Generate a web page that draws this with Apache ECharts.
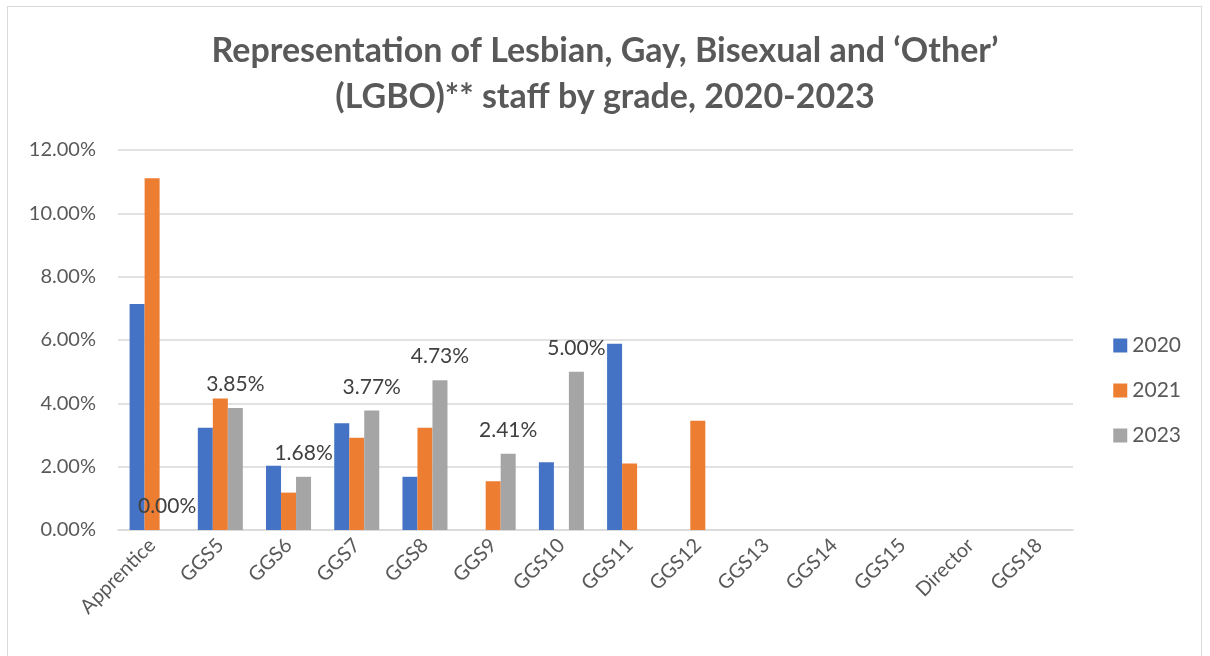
<!DOCTYPE html>
<html>
<head>
<meta charset="utf-8">
<script src="https://cdn.jsdelivr.net/npm/echarts@6/dist/echarts.min.js"></script>
<style>
    html, body { margin: 0; padding: 0; background: #fff; }
    .frame {
        position: absolute;
        left: 7px; top: 6px;
        width: 1195px; height: 660px;
        border: 1px solid #d9d9d9;
        box-sizing: border-box;
    }
    #chart { position: absolute; left: 0; top: 0; width: 1210px; height: 656px; }
</style>
</head>
<body>
<div class="frame"></div>
<div id="chart"></div>
<script>
// 职级分类
const grades = ['Apprentice', 'GGS5', 'GGS6', 'GGS7', 'GGS8', 'GGS9', 'GGS10', 'GGS11', 'GGS12', 'GGS13', 'GGS14', 'GGS15', 'Director', 'GGS18']
// 各年份占比(%)
const values2020 = [7.14, 3.23, 2.03, 3.37, 1.68, null, 2.14, 5.88, null, null, null, null, null, null]
const values2021 = [11.11, 4.15, 1.18, 2.91, 3.23, 1.54, null, 2.10, 3.45, null, null, null, null, null]
const values2023 = [0, 3.85, 1.68, 3.77, 4.73, 2.41, 5.00, null, null, null, null, null, null, null]
const seriesNames = ['2020', '2021', '2023']
const yTicks = [0, 2, 4, 6, 8, 10, 12]

const chartInstance = echarts.init(document.getElementById('chart'))
const font = 'Lato, "Open Sans", sans-serif'
const grey = '#595959'

const option = {
    animation: false,
    textStyle: { fontFamily: font },
    color: ['#4472c4', '#ed7d31', '#a5a5a5'],
    title: {
        text: 'Representation of Lesbian, Gay, Bisexual and \u2018Other\u2019\n(LGBO)** staff by grade, 2020-2023',
        left: 'center',
        top: 23,
        textStyle: {
            fontFamily: font,
            fontSize: 34,
            fontWeight: 'bold',
            color: grey,
            lineHeight: 46
        }
    },
    grid: {
        left: 118,
        right: 137,
        top: 150,
        bottom: 126
    },
    legend: {
        orient: 'vertical',
        right: 24,
        top: 330,
        itemWidth: 14,
        itemHeight: 14,
        itemGap: 24,
        icon: 'rect',
        textStyle: { fontSize: 21, color: grey, fontFamily: font },
        data: seriesNames
    },
    xAxis: {
        type: 'category',
        data: grades,
        axisLine: { lineStyle: { color: '#d9d9d9', width: 1.5 } },
        axisTick: { show: false },
        axisLabel: {
            rotate: 45,
            interval: 0,
            fontSize: 20,
            color: grey,
            margin: 12
        }
    },
    yAxis: {
        type: 'value',
        min: yTicks[0],
        max: yTicks[yTicks.length - 1],
        interval: 2,
        axisLine: { show: false },
        axisTick: { show: false },
        splitLine: { lineStyle: { color: '#d9d9d9', width: 1.5 } },
        axisLabel: {
            fontSize: 20,
            color: grey,
            margin: 22,
            formatter: v => v.toFixed(2) + '%'
        }
    },
    series: [
        { name: seriesNames[0], type: 'bar', data: values2020, barGap: '0%', barCategoryGap: '34%' },
        { name: seriesNames[1], type: 'bar', data: values2021, barGap: '0%', barCategoryGap: '34%' },
        {
            name: seriesNames[2], type: 'bar', data: values2023, barGap: '0%', barCategoryGap: '34%',
            label: {
                show: true,
                position: 'top',
                distance: 13,
                fontSize: 21,
                color: '#404040',
                formatter: p => p.value == null ? '' : p.value.toFixed(2) + '%'
            }
        }
    ]
}
chartInstance.setOption(option)
</script>
</body>
</html>
